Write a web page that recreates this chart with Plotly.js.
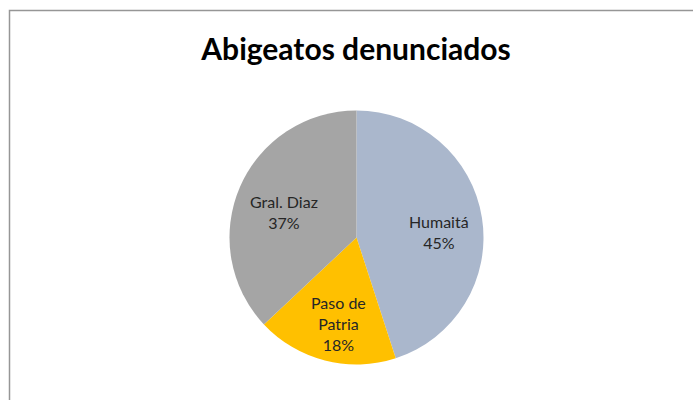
<!DOCTYPE html>
<html>
<head>
<meta charset="utf-8">
<script src="https://cdn.plot.ly/plotly-3.0.1.min.js"></script>
<style>html,body{margin:0;padding:0;background:#fff;}#chart{width:693px;height:400px;}</style>
</head>
<body>
<div id="chart"></div>
<script>
const labels = ["Humaitá", "Paso de Patria", "Gral. Diaz"];
const textLabels = ["Humaitá", "Paso de<br>Patria", "Gral. Diaz"];
const values = [45, 18, 37];
const colors = ["#AAB7CC", "#FFC000", "#A5A5A5"];

const W = 693, H = 400;
const cx = 356.5, cy = 237.5, r = 127;
const yc = 1 - cy / H, ry = r / H, xc = cx / W;

const trace = {
  type: "pie",
  labels: labels,
  values: values,
  sort: false,
  direction: "clockwise",
  rotation: 0,
  marker: {colors: colors, line: {width: 0}},
  textinfo: "none",
  hoverinfo: "label+percent",
  showlegend: false,
  domain: {x: [xc - 0.3, xc + 0.3], y: [yc - ry, yc + ry]}
};

// Data labels placed along each slice's mid-angle (computed from the values)
const total = values.reduce((a, b) => a + b, 0);
let cum = 0;
const annotations = values.map((v, i) => {
  const mid = (cum + v / 2) / total * 2 * Math.PI;
  cum += v;
  const rr = 0.64 * r;
  const px = cx + rr * Math.sin(mid) + 2;
  const py = cy - rr * Math.cos(mid) + 7;
  return {
    xref: "paper", yref: "paper",
    x: px / W, y: 1 - py / H,
    xanchor: "center", yanchor: "middle",
    showarrow: false,
    text: textLabels[i] + "<br>" + Math.round(v / total * 100) + "%",
    font: {family: "Lato, sans-serif", size: 16, color: "#262626"}
  };
});

const layout = {
  width: W, height: H,
  margin: {l: 0, r: 0, t: 0, b: 0},
  paper_bgcolor: "#fff",
  title: {
    text: "<b>Abigeatos denunciados</b>",
    font: {family: "Lato, sans-serif", size: 30, color: "#000"},
    x: 356 / W, xanchor: "center",
    y: 1 - 49 / H, yanchor: "middle",
    xref: "container", yref: "container"
  },
  annotations: annotations,
  shapes: [{
    type: "rect", xref: "paper", yref: "paper",
    x0: 9.5 / W, x1: 1.2, y0: -0.2, y1: 1 - 10.5 / H,
    line: {color: "#969696", width: 1.5}, fillcolor: "rgba(0,0,0,0)"
  }]
};

Plotly.newPlot("chart", [trace], layout, {displayModeBar: false, staticPlot: true});
</script>
</body>
</html>
